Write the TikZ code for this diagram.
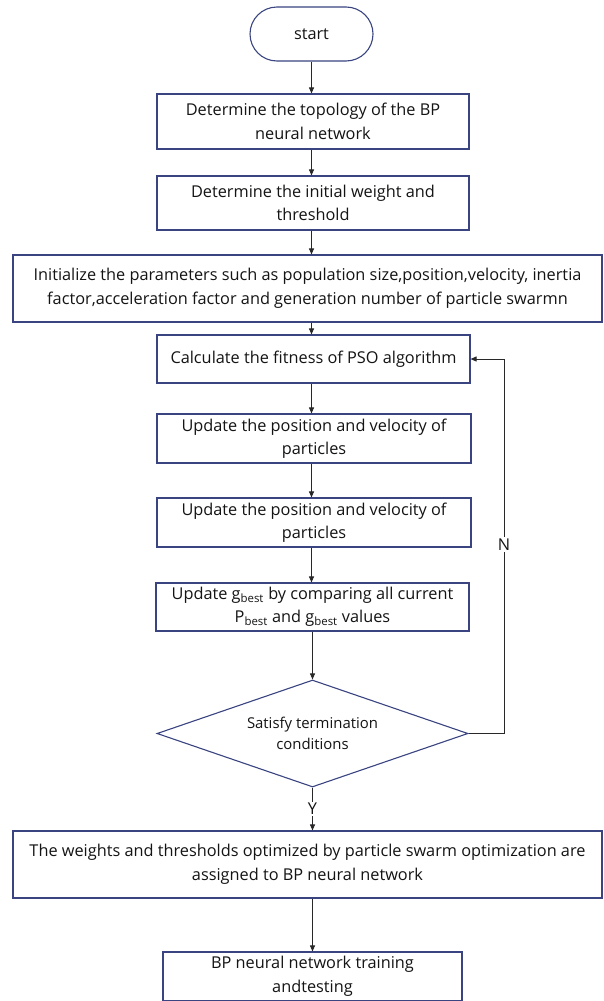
\documentclass[tikz,border=0pt]{standalone}
\usepackage{fontspec}
\setmainfont{Open Sans}
\usetikzlibrary{shapes.geometric,arrows.meta}
\definecolor{boxblue}{RGB}{58,68,128}
\definecolor{linegray}{RGB}{40,40,40}
\definecolor{txt}{RGB}{20,20,20}
\begin{document}
\begin{tikzpicture}[x=1pt,y=-1pt,
  every node/.style={font=\fontsize{16.3}{23.5}\selectfont, text=txt},
  procbox/.style={draw=boxblue, line width=1.1pt, rectangle, align=center, inner sep=0pt, fill=white},
  termbox/.style={draw=boxblue, line width=1.1pt, rectangle, rounded corners=27pt, inner sep=0pt, align=center},
  decbox/.style={draw=boxblue, line width=1.1pt, diamond, inner sep=0pt, align=center},
  conn/.style={draw=linegray, line width=0.9pt, -{Triangle[length=6pt,width=5pt]}},
  lbl/.style={fill=white, inner sep=1.5pt}
]
\useasboundingbox (0,0) rectangle (603,1001);
\fill[white] (0,0) rectangle (603,1001);

\node[termbox, minimum width=123pt, minimum height=54pt] (start) at (311.5,34) {start};
\node[procbox, minimum width=312pt, minimum height=55pt] (b1) at (313,121.5) {Determine the topology of the BP\\neural network};
\node[procbox, minimum width=312pt, minimum height=54pt] (b2) at (313,203) {Determine the initial weight and\\threshold};
\node[procbox, minimum width=589pt, minimum height=67pt] (b3) at (307.5,288.5) {Initialize the parameters such as population size,position,velocity, inertia\\factor,acceleration factor and generation number of particle swarmn};
\node[procbox, minimum width=313pt, minimum height=48pt] (b4) at (313.5,359) {Calculate the fitness of PSO algorithm};
\node[procbox, minimum width=314pt, minimum height=49pt] (b5) at (314,438.5) {Update the position and velocity of\\particles};
\node[procbox, minimum width=314pt, minimum height=49pt] (b6) at (314,522.5) {Update the position and velocity of\\particles};
\node[procbox, minimum width=313pt, minimum height=48pt] (b7) at (312.5,607) {Update g\textsubscript{best} by comparing all current\\P\textsubscript{best} and g\textsubscript{best} values};
\node[decbox, minimum width=311pt, minimum height=107pt] (d) at (312.5,733.5) {};
\node[align=center, font=\fontsize{14.9}{21}\selectfont] (dtext) at (312.5,733.5) {Satisfy termination\\conditions};
\node[procbox, minimum width=589pt, minimum height=67pt] (b8) at (307.5,864.5) {The weights and thresholds optimized by particle swarm optimization are\\assigned to BP neural network};
\node[procbox, minimum width=299pt, minimum height=49pt] (b9) at (312.5,976.5) {BP neural network training\\andtesting};

\coordinate (fbr) at (504,733.5);
\coordinate (fbt) at (504,359);

\draw[conn] (start.south) -- (start.south |- b1.north);
\draw[conn] (b1.south -| start.south) -- (start.south |- b2.north);
\draw[conn] (b2.south -| start.south) -- (start.south |- b3.north);
\draw[conn] (b3.south -| start.south) -- (start.south |- b4.north);
\draw[conn] (b4.south -| start.south) -- (start.south |- b5.north);
\draw[conn] (b5.south -| start.south) -- (start.south |- b6.north);
\draw[conn] (b6.south -| start.south) -- (start.south |- b7.north);
\draw[conn] (b7.south -| d.north) -- (d.north);
\draw[conn] (d.south) -- node[lbl, pos=0.5] (ylab) {Y} (d.south |- b8.north);
\draw[conn] (b8.south -| d.south) -- (d.south |- b9.north);
\draw[conn] (d.east) -- (fbr) -- node[lbl, pos=0.505] (nlab) {N} (fbt) -- (b4.east);
\end{tikzpicture}
\end{document}
